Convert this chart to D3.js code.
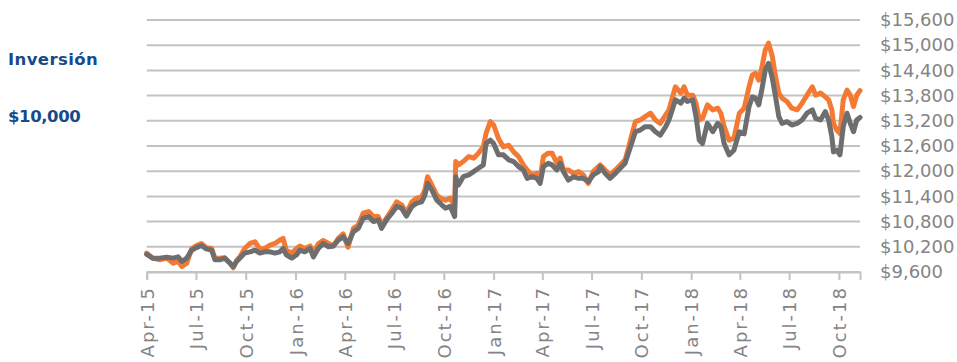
<!DOCTYPE html>
<html>
<head>
<meta charset="utf-8">
<script src="https://cdn.jsdelivr.net/npm/d3@7"></script>
<style>
  html, body { margin: 0; padding: 0; background: #ffffff; }
  svg { display: block; }
</style>
</head>
<body>
<svg id="chart" width="957" height="362"></svg>
<script>
// Growth of a $10,000 investment, two series, April 2015 – November 2018
const dates = [
  "2015-04-01","2015-04-12","2015-04-25","2015-05-08","2015-05-20","2015-05-29","2015-06-05","2015-06-14","2015-06-23","2015-07-02",
  "2015-07-11","2015-07-20","2015-07-30","2015-08-05","2015-08-14","2015-08-23","2015-09-02","2015-09-08","2015-09-14","2015-09-20",
  "2015-09-29","2015-10-09","2015-10-18","2015-10-27","2015-11-05","2015-11-15","2015-11-24","2015-12-03","2015-12-09","2015-12-15",
  "2015-12-25","2016-01-03","2016-01-09","2016-01-18","2016-01-28","2016-02-03","2016-02-12","2016-02-21","2016-03-02","2016-03-11",
  "2016-03-20","2016-03-29","2016-04-07","2016-04-17","2016-04-26","2016-05-05","2016-05-15","2016-05-24","2016-06-02","2016-06-08",
  "2016-06-17","2016-06-27","2016-07-06","2016-07-15","2016-07-24","2016-08-03","2016-08-12","2016-08-21","2016-08-27","2016-09-01",
  "2016-09-09","2016-09-18","2016-09-27","2016-10-04","2016-10-13","2016-10-21","2016-10-23","2016-10-28","2016-11-06","2016-11-16",
  "2016-11-25","2016-12-04","2016-12-13","2016-12-18","2016-12-26","2017-01-01","2017-01-10","2017-01-19","2017-01-29","2017-02-07",
  "2017-02-16","2017-02-25","2017-03-04","2017-03-13","2017-03-22","2017-03-28","2017-04-03","2017-04-12","2017-04-19","2017-04-28",
  "2017-05-04","2017-05-10","2017-05-19","2017-05-29","2017-06-07","2017-06-16","2017-06-25","2017-07-04","2017-07-14","2017-07-17",
  "2017-07-26","2017-08-04","2017-08-14","2017-08-23","2017-09-01","2017-09-07","2017-09-14","2017-09-20","2017-09-29","2017-10-08",
  "2017-10-18","2017-10-27","2017-11-05","2017-11-15","2017-11-21","2017-11-27","2017-12-03","2017-12-13","2017-12-19","2017-12-25",
  "2018-01-04","2018-01-10","2018-01-16","2018-01-22","2018-01-31","2018-02-10","2018-02-19","2018-02-25","2018-03-03","2018-03-12",
  "2018-03-21","2018-03-31","2018-04-09","2018-04-18","2018-04-24","2018-04-30","2018-05-06","2018-05-12","2018-05-18","2018-05-24",
  "2018-05-31","2018-06-06","2018-06-12","2018-06-18","2018-06-27","2018-07-06","2018-07-16","2018-07-25","2018-08-03","2018-08-13",
  "2018-08-19","2018-08-28","2018-09-06","2018-09-12","2018-09-18","2018-09-21","2018-09-27","2018-10-03","2018-10-09","2018-10-16",
  "2018-10-22","2018-10-28","2018-11-03","2018-11-09"
];

const orangeSeries = [
  10050, 9930, 9890, 9930, 9810, 9850, 9730, 9810,10150,10230,
  10280,10180,10160, 9930, 9930, 9940, 9810, 9700, 9870, 9960,
  10160,10280,10320,10150,10160,10240,10280,10360,10400,10120,
  10050,10160,10220,10160,10220,10050,10270,10350,10280,10220,
  10400,10510,10190,10640,10720,11000,11040,10920,10920,10720,
  10880,11080,11270,11200,11010,11270,11360,11390,11550,11870,
  11670,11430,11340,11310,11360,11160,12230,12150,12230,12350,
  12310,12430,12580,12900,13180,13100,12780,12580,12620,12460,
  12350,12150,12030,11910,11950,11840,12350,12430,12430,12190,
  12310,12030,12030,11950,11990,11910,11710,11990,12110,12150,
  12030,11910,12030,12150,12270,12550,12900,13180,13220,13300,
  13380,13220,13140,13340,13460,13740,14010,13860,14010,13810,
  13810,13620,13220,13260,13580,13460,13500,13380,13060,12740,
  12780,13380,13500,14010,14290,14330,14170,14490,14890,15050,
  14730,14250,13860,13740,13660,13500,13460,13620,13810,14010,
  13810,13860,13770,13700,13460,13140,12980,12900,13700,13930,
  13810,13540,13810,13920
];

const graySeries = [
  10020, 9930, 9930, 9950, 9930, 9960, 9850, 9930,10120,10180,
  10230,10150,10120, 9890, 9890, 9930, 9810, 9730, 9850, 9930,
  10050,10080,10120,10050,10080,10080,10050,10080,10160,10010,
   9930,10010,10120,10080,10160, 9960,10160,10280,10200,10220,
  10360,10440,10280,10560,10640,10880,10920,10800,10840,10640,
  10840,11000,11160,11120,10930,11160,11240,11270,11430,11710,
  11550,11310,11200,11120,11160,10920,11870,11670,11870,11910,
  11990,12070,12150,12660,12740,12660,12390,12390,12270,12230,
  12110,12030,11830,11870,11830,11710,12110,12190,12150,12030,
  12190,11990,11790,11870,11830,11830,11750,11910,11990,12110,
  11950,11830,11950,12070,12190,12430,12700,12940,12980,13060,
  13060,12940,12860,13060,13220,13460,13700,13620,13740,13660,
  13700,13300,12740,12660,13140,12940,13140,13060,12660,12390,
  12500,12940,12890,13540,13770,13740,13580,13970,14410,14570,
  14210,13770,13300,13140,13180,13100,13140,13220,13380,13460,
  13260,13220,13420,13220,12820,12460,12500,12390,13060,13380,
  13140,12940,13220,13280
];

const yTicks = [9600, 10200, 10800, 11400, 12000, 12600, 13200, 13800, 14400, 15000, 15600];
const yTickLabels = ["$9,600","$10,200","$10,800","$11,400","$12,000","$12,600","$13,200","$13,800","$14,400","$15,000","$15,600"];
const xTickDates = ["2015-04-01","2015-07-01","2015-10-01","2016-01-01","2016-04-01","2016-07-01","2016-10-01","2017-01-01",
                    "2017-04-01","2017-07-01","2017-10-01","2018-01-01","2018-04-01","2018-07-01","2018-10-01"];
const xTickLabels = ["Apr-15","Jul-15","Oct-15","Jan-16","Apr-16","Jul-16","Oct-16","Jan-17",
                     "Apr-17","Jul-17","Oct-17","Jan-18","Apr-18","Jul-18","Oct-18"];
const sideLabels = ["Inversión", "$10,000"];

const parse = d3.utcParse("%Y-%m-%d");
const rows = dates.map((d, i) => ({ date: parse(d), orange: orangeSeries[i], gray: graySeries[i] }));

const svg = d3.select("#chart");
const plot = { left: 146.7, right: 860, top: 20, bottom: 272 };

const x = d3.scaleUtc()
  .domain([parse("2015-04-01"), parse("2018-11-09")])
  .range([plot.left, plot.right]);
const y = d3.scaleLinear()
  .domain([9600, 15600])
  .range([plot.bottom, plot.top]);

const gridColor = "#c3c3c3";
const labelColor = "#848484";
const labelFont = "'DejaVu Sans', sans-serif";

// horizontal gridlines
svg.append("g")
  .selectAll("line")
  .data(yTicks)
  .join("line")
  .attr("x1", plot.left).attr("x2", plot.right)
  .attr("y1", d => y(d)).attr("y2", d => y(d))
  .attr("stroke", gridColor).attr("stroke-width", 2);

// right value axis
const yAxis = d3.axisRight(y)
  .tickValues(yTicks)
  .tickSize(0)
  .tickPadding(0)
  .tickFormat((d, i) => yTickLabels[i]);
const gy = svg.append("g")
  .attr("transform", `translate(880,0)`)
  .call(yAxis);
gy.select(".domain").remove();
gy.selectAll("text")
  .attr("x", 0)
  .attr("fill", labelColor)
  .style("font-family", labelFont)
  .style("font-size", "18px");

// bottom date axis
const xAxis = d3.axisBottom(x)
  .tickValues(xTickDates.map(parse))
  .tickSize(8)
  .tickFormat((d, i) => xTickLabels[i]);
const gx = svg.append("g")
  .attr("transform", `translate(0,${plot.bottom})`)
  .call(xAxis);
gx.select(".domain").attr("stroke", gridColor).attr("stroke-width", 2);
gx.selectAll(".tick line").attr("stroke", gridColor).attr("stroke-width", 2);
gx.selectAll(".tick text")
  .attr("transform", "rotate(-90)")
  .attr("text-anchor", "end")
  .attr("x", -14)
  .attr("y", 0)
  .attr("dy", "0.36em")
  .attr("fill", labelColor)
  .style("font-family", labelFont)
  .style("font-size", "18px")
  .style("letter-spacing", "2px");

// series lines
const lineFor = key => d3.line()
  .x(d => x(d.date))
  .y(d => y(d[key]));

svg.append("path")
  .datum(rows)
  .attr("d", lineFor("orange"))
  .attr("fill", "none")
  .attr("stroke", "#f47a33")
  .attr("stroke-width", 5)
  .attr("stroke-linejoin", "round")
  .attr("stroke-linecap", "round");

svg.append("path")
  .datum(rows)
  .attr("d", lineFor("gray"))
  .attr("fill", "none")
  .attr("stroke", "#6e6e6e")
  .attr("stroke-width", 5)
  .attr("stroke-linejoin", "round")
  .attr("stroke-linecap", "round");

// side caption
svg.append("g")
  .selectAll("text")
  .data(sideLabels)
  .join("text")
  .attr("x", 8)
  .attr("y", (d, i) => i === 0 ? 65 : 122)
  .attr("fill", "#174a8b")
  .style("font-family", "'DejaVu Sans', sans-serif")
  .style("font-weight", 700)
  .style("font-size", "16.5px")
  .style("letter-spacing", (d, i) => i === 0 ? "0.4px" : "-0.4px")
  .text(d => d);
</script>
</body>
</html>
